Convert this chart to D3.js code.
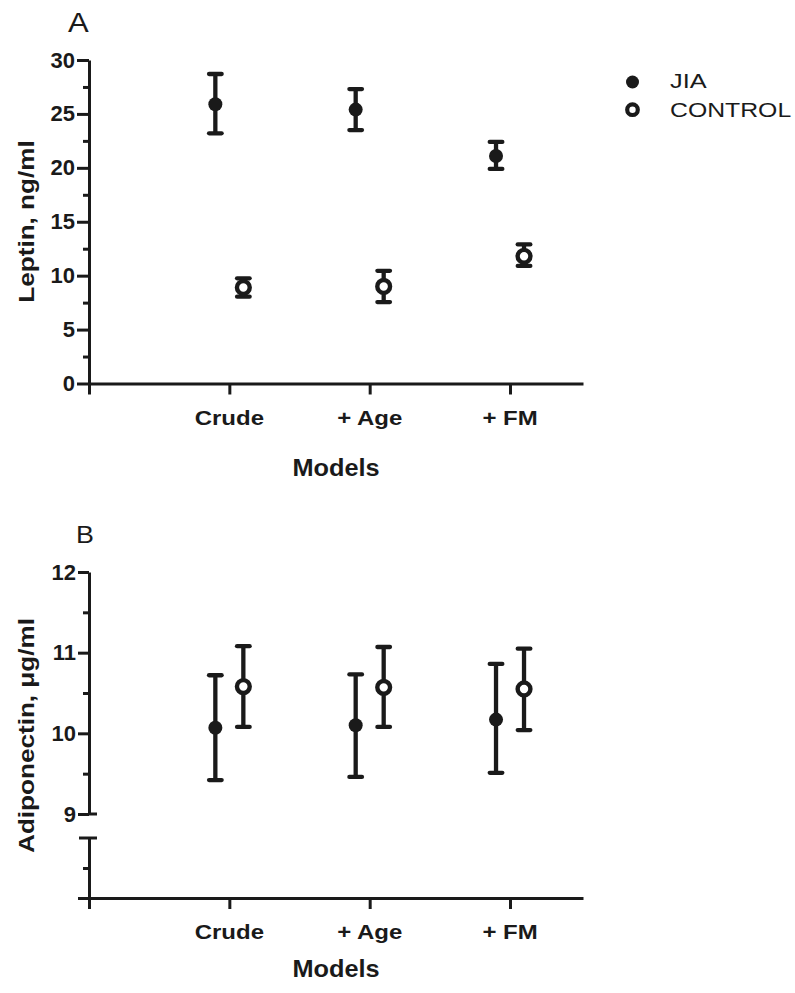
<!DOCTYPE html>
<html>
<head>
<meta charset="utf-8">
<script src="https://cdn.jsdelivr.net/npm/d3@7"></script>
<style>
  html, body { margin: 0; padding: 0; background: #fff; }
  svg { display: block; }
  text { font-family: "Liberation Sans", Arial, sans-serif; fill: #1a1a1a; }
</style>
</head>
<body>
<svg id="chart" width="795" height="993"></svg>
<script>
// ---------- data ----------
const categories = ["Crude", "+ Age", "+ FM"];
const seriesNames = ["JIA", "CONTROL"];

const leptinJIA      = [25.9, 25.4, 21.1];
const leptinJIALow   = [23.2, 23.5, 19.9];
const leptinJIAHigh  = [28.7, 27.3, 22.4];
const leptinCtl      = [8.9, 9.0, 11.8];
const leptinCtlLow   = [8.05, 7.55, 10.9];
const leptinCtlHigh  = [9.75, 10.45, 12.9];

const adipoJIA       = [10.07, 10.10, 10.17];
const adipoJIALow    = [9.42, 9.46, 9.51];
const adipoJIAHigh   = [10.72, 10.73, 10.86];
const adipoCtl       = [10.58, 10.57, 10.55];
const adipoCtlLow    = [10.08, 10.08, 10.04];
const adipoCtlHigh   = [11.08, 11.07, 11.05];

const leptinTicks = [0, 5, 10, 15, 20, 25, 30];
const leptinMinor = [2.5, 7.5, 12.5, 17.5, 22.5, 27.5];
const adipoTicks  = [9, 10, 11, 12];
const adipoMinor  = [9.5, 10.5, 11.5];

// ---------- setup ----------
const ink = "#1a1a1a";
const svg = d3.select("#chart");
const dodge = 14;

function stretchedText(g, x, y, str, opts) {
  return g.append("text")
    .attr("transform", `translate(${x},${y})` + (opts.rotate ? ` rotate(${opts.rotate})` : "") + ` scale(${opts.sx || 1},1)`)
    .attr("text-anchor", opts.anchor || "middle")
    .style("font-size", opts.size + "px")
    .style("font-weight", opts.weight || "bold")
    .text(str);
}

function styleAxis(g) {
  g.selectAll("path.domain").attr("stroke", ink).attr("stroke-width", 3);
  g.selectAll(".tick line").attr("stroke", ink).attr("stroke-width", 3);
  g.selectAll(".tick text").style("font-size", "22px").style("font-weight", "bold")
    .style("font-family", '"Liberation Sans", Arial, sans-serif').attr("fill", ink);
}

function drawPoints(g, x, y, mean, low, high, offset, filled) {
  const grp = g.append("g");
  categories.forEach((c, i) => {
    const cx = x(i + 1) + offset;
    grp.append("line").attr("x1", cx).attr("x2", cx)
      .attr("y1", y(low[i])).attr("y2", y(high[i]))
      .attr("stroke", ink).attr("stroke-width", 4.3);
    [low[i], high[i]].forEach(v => {
      grp.append("line").attr("x1", cx - 6.3).attr("x2", cx + 6.3)
        .attr("y1", y(v)).attr("y2", y(v))
        .attr("stroke", ink).attr("stroke-width", 4.3).attr("stroke-linecap", "round");
    });
    if (filled) {
      grp.append("circle").attr("cx", cx).attr("cy", y(mean[i])).attr("r", 7).attr("fill", ink);
    } else {
      grp.append("circle").attr("cx", cx).attr("cy", y(mean[i])).attr("r", 6.4)
        .attr("fill", "#fff").attr("stroke", ink).attr("stroke-width", 4.4);
    }
  });
}

function xAxis(g, x, yPos) {
  const ax = g.append("g").attr("transform", `translate(0,${yPos})`)
    .call(d3.axisBottom(x).tickValues([0, 1, 2, 3]).tickSize(11).tickSizeOuter(0).tickFormat(""));
  styleAxis(ax);
  categories.forEach((c, i) => {
    stretchedText(g, x(i + 1), yPos + 41, c, { size: 20.5, sx: 1.17 });
  });
}

// ---------- Panel A ----------
const gA = svg.append("g");
const xA = d3.scaleLinear().domain([0, 3.52]).range([89, 583]);
const yA = d3.scaleLinear().domain([0, 30]).range([383.5, 60]);

const ayA = gA.append("g").attr("transform", "translate(89,0)")
  .call(d3.axisLeft(yA).tickValues(leptinTicks).tickSize(12).tickPadding(2).tickSizeOuter(0).tickFormat(d3.format("d")));
styleAxis(ayA);
const ayAm = gA.append("g").attr("transform", "translate(89,0)")
  .call(d3.axisLeft(yA).tickValues(leptinMinor).tickSize(6).tickFormat("").tickSizeOuter(0));
styleAxis(ayAm);
ayAm.select("path.domain").remove();

xAxis(gA, xA, 383.5);

drawPoints(gA, xA, yA, leptinJIA, leptinJIALow, leptinJIAHigh, -dodge, true);
drawPoints(gA, xA, yA, leptinCtl, leptinCtlLow, leptinCtlHigh, dodge, false);

stretchedText(gA, 68, 31.7, "A", { size: 27, sx: 1.15, anchor: "start", weight: "normal" });
stretchedText(gA, 34, 221.5, "Leptin, ng/ml", { size: 22.5, sx: 1.16, rotate: -90 });
stretchedText(gA, 336, 476, "Models", { size: 23, sx: 1.1 });

// legend
const leg = svg.append("g");
leg.append("circle").attr("cx", 632.5).attr("cy", 82).attr("r", 6.5).attr("fill", ink);
leg.append("circle").attr("cx", 632.5).attr("cy", 109.7).attr("r", 5.3)
  .attr("fill", "#fff").attr("stroke", ink).attr("stroke-width", 4.2);
stretchedText(leg, 670, 88.3, seriesNames[0], { size: 19.5, sx: 1.3, anchor: "start", weight: "normal" });
stretchedText(leg, 670, 116.7, seriesNames[1], { size: 20, sx: 1.24, anchor: "start", weight: "normal" });

// ---------- Panel B ----------
const gB = svg.append("g");
const xB = d3.scaleLinear().domain([0, 3.52]).range([89, 583]);
const yB = d3.scaleLinear().domain([9, 12]).range([814, 572]);
const yB0 = d3.scaleLinear().domain([0, 1]).range([898, 838]);

const ayB = gB.append("g").attr("transform", "translate(89,0)")
  .call(d3.axisLeft(yB).tickValues(adipoTicks).tickSize(11).tickPadding(2).tickSizeOuter(0).tickFormat(d3.format("d")));
styleAxis(ayB);
const ayBm = gB.append("g").attr("transform", "translate(89,0)")
  .call(d3.axisLeft(yB).tickValues(adipoMinor).tickSize(6).tickFormat("").tickSizeOuter(0));
styleAxis(ayBm);
ayBm.select("path.domain").remove();
// break cap at bottom of upper segment
gB.append("line").attr("x1", 89).attr("x2", 97).attr("y1", yB(9)).attr("y2", yB(9))
  .attr("stroke", ink).attr("stroke-width", 3);

// lower segment
const ayB0 = gB.append("g").attr("transform", "translate(89,0)")
  .call(d3.axisLeft(yB0).tickValues([0]).tickSize(11).tickFormat("").tickSizeOuter(0));
styleAxis(ayB0);
const ayB0m = gB.append("g").attr("transform", "translate(89,0)")
  .call(d3.axisLeft(yB0).tickValues([0.5]).tickSize(6).tickFormat("").tickSizeOuter(0));
styleAxis(ayB0m);
ayB0m.select("path.domain").remove();
gB.append("line").attr("x1", 79).attr("x2", 97).attr("y1", yB0(1)).attr("y2", yB0(1))
  .attr("stroke", ink).attr("stroke-width", 3);

xAxis(gB, xB, 898);

drawPoints(gB, xB, yB, adipoJIA, adipoJIALow, adipoJIAHigh, -dodge, true);
drawPoints(gB, xB, yB, adipoCtl, adipoCtlLow, adipoCtlHigh, dodge, false);

stretchedText(gB, 76, 543.3, "B", { size: 24, sx: 1.12, anchor: "start", weight: "normal" });
stretchedText(gB, 34, 735.5, "Adiponectin, μg/ml", { size: 22.5, sx: 1.16, rotate: -90 });
stretchedText(gB, 336, 977, "Models", { size: 23, sx: 1.1 });
</script>
</body>
</html>
